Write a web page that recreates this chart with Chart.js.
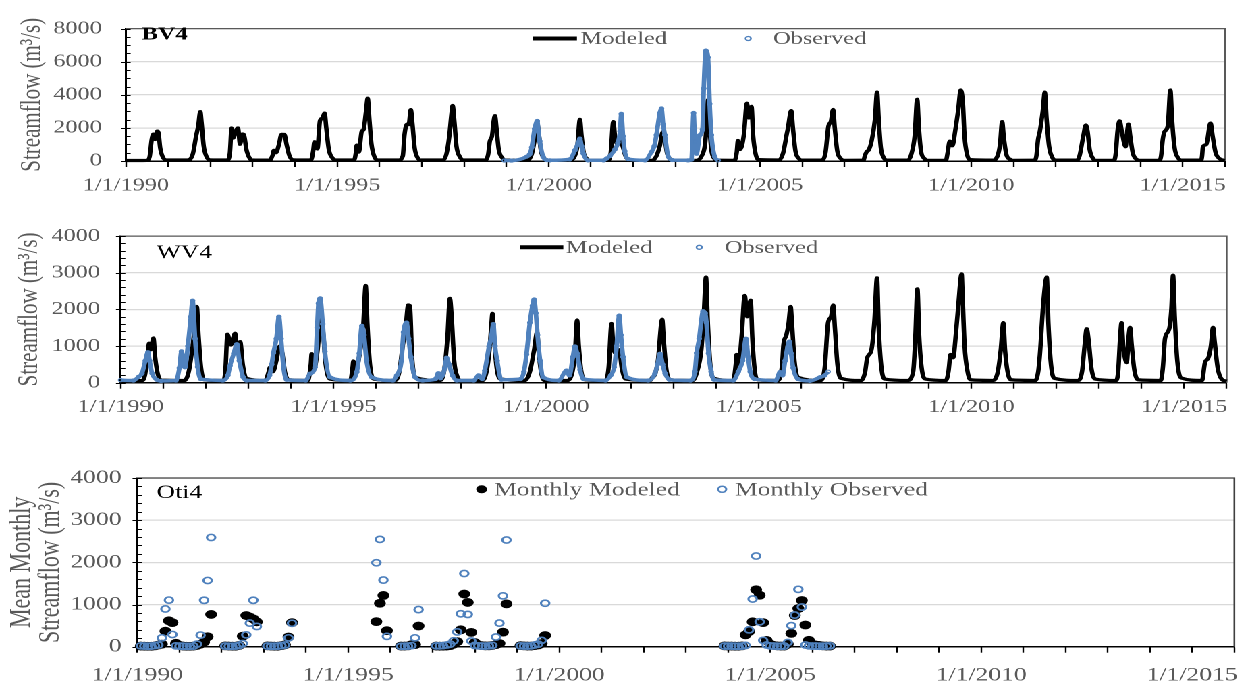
<!DOCTYPE html>
<html><head><meta charset="utf-8">
<script src="https://cdn.jsdelivr.net/npm/chart.js@4.4.1/dist/chart.umd.min.js"></script>
<style>
html,body{margin:0;padding:0;background:#fff;overflow:hidden;width:1250px;height:688px;}
#wrap{position:absolute;left:0;top:0;width:926px;height:688px;transform:scaleX(1.3499);transform-origin:0 0;}
.pane{position:absolute;left:0;width:926px;}
</style></head><body>
<div id="wrap">
 <div class="pane" style="top:0;height:200px"><canvas id="c1" width="926" height="200"></canvas></div>
 <div class="pane" style="top:210px;height:215px"><canvas id="c2" width="926" height="215"></canvas></div>
 <div class="pane" style="top:455px;height:233px"><canvas id="c3" width="926" height="233"></canvas></div>
</div>
<script>
// ---------------- DATA (x = decimal year, y = m3/s) ----------------
const bv4Modeled = [[1990.00,30],[1990.50,40],[1990.56,250],[1990.61,1300],[1990.65,1620],[1990.69,1300],[1990.74,1800],[1990.77,1700],[1990.81,800],[1990.87,250],[1990.96,60],
[1991.45,60],[1991.58,400],[1991.66,1500],[1991.71,2100],[1991.76,2980],[1991.79,2300],[1991.84,900],[1991.90,300],[1991.98,70],
[1992.40,60],[1992.46,500],[1992.50,1990],[1992.54,1390],[1992.59,1750],[1992.65,1990],[1992.70,1010],[1992.75,1630],[1992.79,1600],[1992.85,700],[1992.92,200],[1992.99,60],
[1993.40,50],[1993.47,350],[1993.50,640],[1993.55,500],[1993.62,1000],[1993.68,1610],[1993.75,1600],[1993.80,1000],[1993.87,300],[1993.96,70],
[1994.38,60],[1994.43,600],[1994.46,1160],[1994.53,730],[1994.59,2420],[1994.65,2600],[1994.70,2890],[1994.74,2000],[1994.80,700],[1994.88,200],[1994.97,60],
[1995.40,60],[1995.44,500],[1995.46,960],[1995.51,540],[1995.58,1800],[1995.62,1890],[1995.68,3000],[1995.72,3790],[1995.76,2500],[1995.81,1000],[1995.88,250],[1995.97,60],
[1996.45,60],[1996.55,300],[1996.59,1570],[1996.65,2230],[1996.69,2200],[1996.74,3100],[1996.78,2200],[1996.83,800],[1996.90,200],[1996.98,60],
[1997.50,60],[1997.58,400],[1997.65,1500],[1997.70,2800],[1997.73,3350],[1997.77,2400],[1997.82,900],[1997.90,250],[1997.98,60],
[1998.50,60],[1998.57,400],[1998.61,1200],[1998.66,1500],[1998.70,2400],[1998.73,2740],[1998.77,1900],[1998.82,700],[1998.90,200],[1998.98,50],
[1999.50,50],[1999.60,400],[1999.67,1300],[1999.73,2300],[1999.77,1600],[1999.82,600],[1999.90,150],[1999.98,40],
[2000.50,40],[2000.62,300],[2000.68,900],[2000.74,2510],[2000.78,1500],[2000.83,500],[2000.90,150],[2000.98,40],
[2001.40,40],[2001.47,500],[2001.53,2380],[2001.57,1500],[2001.63,1000],[2001.70,1200],[2001.75,900],[2001.82,300],[2001.92,60],
[2002.45,40],[2002.55,300],[2002.63,900],[2002.70,1760],[2002.75,1300],[2002.80,500],[2002.87,120],[2002.95,40],
[2003.50,40],[2003.62,300],[2003.70,1000],[2003.74,2300],[2003.77,3700],[2003.80,2300],[2003.85,700],[2003.92,150],[2004.00,50],
[2004.40,40],[2004.45,500],[2004.48,1240],[2004.53,700],[2004.62,1600],[2004.69,3490],[2004.74,2600],[2004.80,3300],[2004.84,1500],[2004.90,400],[2004.98,80],
[2005.45,60],[2005.55,500],[2005.63,1570],[2005.66,1950],[2005.74,3040],[2005.78,2000],[2005.84,600],[2005.92,150],[2005.99,50],
[2006.45,50],[2006.55,500],[2006.62,2100],[2006.68,2400],[2006.73,3110],[2006.77,2000],[2006.83,600],[2006.91,150],[2006.99,40],
[2007.45,50],[2007.48,300],[2007.52,540],[2007.58,700],[2007.64,1200],[2007.72,2500],[2007.77,4160],[2007.81,2500],[2007.86,800],[2007.93,200],[2008.00,50],
[2008.50,50],[2008.58,400],[2008.66,1500],[2008.72,3730],[2008.76,2000],[2008.81,600],[2008.89,150],[2008.97,40],
[2009.40,40],[2009.44,500],[2009.49,1200],[2009.55,920],[2009.63,2000],[2009.69,3070],[2009.75,4290],[2009.80,3540],[2009.84,1500],[2009.90,400],[2009.98,80],
[2010.50,50],[2010.62,300],[2010.68,1000],[2010.73,2380],[2010.77,1400],[2010.83,400],[2010.92,100],[2010.99,40],
[2011.50,50],[2011.54,300],[2011.58,1300],[2011.62,1760],[2011.69,3000],[2011.74,4160],[2011.78,2600],[2011.84,900],[2011.92,200],[2011.99,50],
[2012.50,50],[2012.56,300],[2012.65,1500],[2012.71,2170],[2012.75,1800],[2012.80,700],[2012.88,150],[2012.96,40],
[2013.38,40],[2013.42,500],[2013.46,1800],[2013.51,2420],[2013.56,1800],[2013.65,860],[2013.69,1800],[2013.72,2230],[2013.76,1500],[2013.82,500],[2013.90,120],[2013.98,40],
[2014.45,40],[2014.49,300],[2014.53,1300],[2014.57,1760],[2014.65,2140],[2014.71,4290],[2014.75,2500],[2014.81,800],[2014.89,200],[2014.97,50],
[2015.44,50],[2015.46,300],[2015.48,860],[2015.56,1000],[2015.66,2290],[2015.71,1500],[2015.78,500],[2015.87,150],[2015.97,40],[2016.00,30]];

const bv4Observed = [[1998.95,30],[1999.12,25],[1999.48,260],[1999.55,400],[1999.60,820],[1999.67,1950],[1999.73,2420],[1999.76,1800],[1999.79,1200],[1999.87,260],[1999.95,60],
[2000.03,40],[2000.50,100],[2000.62,640],[2000.70,1100],[2000.74,1350],[2000.78,900],[2000.82,450],[2000.93,40],
[2001.30,40],[2001.37,150],[2001.45,300],[2001.57,700],[2001.64,1100],[2001.69,1800],[2001.72,2850],[2001.76,1500],[2001.80,600],[2001.88,120],
[2002.28,40],[2002.43,540],[2002.50,900],[2002.55,1570],[2002.63,2890],[2002.67,3170],[2002.71,2200],[2002.75,1570],[2002.83,260],[2002.92,60],
[2003.30,40],[2003.38,80],[2003.43,2900],[2003.46,1200],[2003.50,440],[2003.58,1570],[2003.64,1900],[2003.67,4380],[2003.72,6670],[2003.77,6260],[2003.81,3450],[2003.85,1570],[2003.93,260],[2004.01,40]];

const wv4Modeled = [[1990.00,50],[1990.50,60],[1990.57,200],[1990.63,700],[1990.67,1075],[1990.71,900],[1990.77,1220],[1990.81,700],[1990.87,250],[1990.95,70],
[1991.50,60],[1991.60,300],[1991.68,900],[1991.74,1500],[1991.79,2080],[1991.83,1300],[1991.89,400],[1991.97,80],
[1992.40,60],[1992.46,300],[1992.51,1320],[1992.59,1030],[1992.69,1350],[1992.74,900],[1992.81,1120],[1992.87,500],[1992.95,120],
[1993.40,60],[1993.48,300],[1993.51,420],[1993.58,300],[1993.66,600],[1993.74,1000],[1993.80,800],[1993.86,300],[1993.95,80],
[1994.40,60],[1994.47,500],[1994.49,790],[1994.55,400],[1994.63,900],[1994.70,1750],[1994.75,1500],[1994.82,500],[1994.92,100],
[1995.40,60],[1995.45,400],[1995.47,590],[1995.52,300],[1995.62,800],[1995.70,1500],[1995.76,2650],[1995.80,1600],[1995.86,500],[1995.95,100],
[1996.45,60],[1996.55,300],[1996.63,1000],[1996.70,1500],[1996.76,2120],[1996.80,2095],[1996.85,700],[1996.93,150],
[1997.50,60],[1997.60,300],[1997.68,1200],[1997.74,2300],[1997.78,1800],[1997.84,600],[1997.92,150],[1997.99,60],
[1998.50,60],[1998.60,300],[1998.67,900],[1998.71,1500],[1998.74,1890],[1998.78,1200],[1998.84,400],[1998.93,100],
[1999.50,60],[1999.62,300],[1999.72,900],[1999.79,1380],[1999.83,800],[1999.89,250],[1999.97,60],
[2000.50,60],[2000.62,300],[2000.68,800],[2000.73,1710],[2000.77,1000],[2000.83,300],[2000.92,80],
[2001.40,60],[2001.47,400],[2001.54,1615],[2001.58,1000],[2001.65,800],[2001.72,900],[2001.78,400],[2001.87,100],
[2002.45,60],[2002.50,150],[2002.55,200],[2002.63,600],[2002.73,1730],[2002.77,1100],[2002.83,350],[2002.92,80],
[2003.45,60],[2003.55,300],[2003.65,900],[2003.71,1900],[2003.76,2880],[2003.80,1700],[2003.86,500],[2003.94,120],
[2004.40,60],[2004.46,500],[2004.48,770],[2004.53,500],[2004.60,1300],[2004.67,2380],[2004.73,1800],[2004.81,2250],[2004.85,1200],[2004.91,300],[2004.98,80],
[2005.45,60],[2005.55,500],[2005.58,1030],[2005.65,1300],[2005.70,1600],[2005.75,2080],[2005.78,1640],[2005.84,600],[2005.92,150],
[2006.45,60],[2006.55,400],[2006.63,1640],[2006.70,1800],[2006.75,2120],[2006.79,1500],[2006.85,500],[2006.93,120],
[2007.40,60],[2007.50,290],[2007.55,680],[2007.65,900],[2007.72,1700],[2007.78,2860],[2007.82,1500],[2007.88,450],[2007.96,100],
[2008.50,60],[2008.63,300],[2008.68,1200],[2008.73,2560],[2008.77,1300],[2008.83,400],[2008.92,100],
[2009.40,60],[2009.46,300],[2009.51,770],[2009.57,680],[2009.64,1400],[2009.69,2080],[2009.77,2970],[2009.79,2430],[2009.84,1000],[2009.91,300],[2009.98,80],
[2010.50,60],[2010.62,300],[2010.69,900],[2010.75,1640],[2010.79,900],[2010.85,300],[2010.93,80],
[2011.50,60],[2011.57,300],[2011.61,770],[2011.69,2170],[2011.77,2880],[2011.81,1600],[2011.87,500],[2011.95,120],
[2012.50,60],[2012.60,300],[2012.66,1000],[2012.71,1470],[2012.76,1100],[2012.82,400],[2012.91,100],
[2013.40,60],[2013.45,300],[2013.50,1300],[2013.53,1640],[2013.57,1000],[2013.65,550],[2013.70,1300],[2013.73,1510],[2013.77,1000],[2013.83,350],[2013.92,80],
[2014.45,60],[2014.50,400],[2014.55,1200],[2014.65,1470],[2014.70,2000],[2014.74,2930],[2014.78,1800],[2014.84,600],[2014.93,130],
[2015.42,60],[2015.49,550],[2015.57,680],[2015.63,1000],[2015.68,1510],[2015.72,1100],[2015.79,400],[2015.88,100],[2016.00,40]];

const wv4Observed = [[1990.00,70],[1990.30,60],[1990.42,160],[1990.50,250],[1990.58,600],[1990.64,830],[1990.68,600],[1990.74,250],[1990.85,80],[1990.95,50],
[1991.30,60],[1991.38,400],[1991.43,855],[1991.51,420],[1991.58,1000],[1991.65,1800],[1991.69,2235],[1991.75,1200],[1991.81,430],[1991.88,100],
[1992.40,60],[1992.52,200],[1992.57,460],[1992.66,800],[1992.73,1050],[1992.79,600],[1992.88,150],[1992.96,60],
[1993.40,60],[1993.50,200],[1993.55,500],[1993.59,810],[1993.66,1200],[1993.72,1800],[1993.77,1200],[1993.83,400],[1993.90,80],
[1994.35,60],[1994.45,245],[1994.57,420],[1994.62,1500],[1994.65,2165],[1994.69,2300],[1994.75,1600],[1994.80,850],[1994.92,150],
[1995.40,60],[1995.55,290],[1995.61,800],[1995.67,1550],[1995.72,1300],[1995.78,600],[1995.90,150],
[1996.40,60],[1996.49,200],[1996.60,600],[1996.65,1380],[1996.72,1640],[1996.77,1200],[1996.82,700],[1996.92,150],
[1997.10,60],[1997.40,100],[1997.47,260],[1997.52,120],[1997.62,400],[1997.66,680],[1997.72,500],[1997.80,200],[1997.90,60],
[1998.30,60],[1998.41,200],[1998.50,100],[1998.56,330],[1998.66,990],[1998.72,1300],[1998.76,1600],[1998.80,1000],[1998.85,600],[1998.95,80],
[1999.40,100],[1999.48,300],[1999.54,770],[1999.62,1640],[1999.68,2100],[1999.72,2270],[1999.76,1900],[1999.80,1300],[1999.86,600],[1999.93,150],
[2000.30,60],[2000.48,330],[2000.55,200],[2000.63,700],[2000.68,990],[2000.73,800],[2000.80,350],[2000.88,100],
[2001.40,60],[2001.52,200],[2001.60,420],[2001.66,1000],[2001.72,1830],[2001.76,1300],[2001.81,700],[2001.90,150],
[2002.40,60],[2002.56,250],[2002.62,500],[2002.68,790],[2002.74,500],[2002.80,250],[2002.90,80],
[2003.40,60],[2003.50,300],[2003.54,810],[2003.60,1200],[2003.65,1700],[2003.69,1950],[2003.74,1900],[2003.77,1640],[2003.82,800],[2003.88,300],[2003.95,80],
[2004.40,60],[2004.52,300],[2004.62,600],[2004.70,1200],[2004.75,700],[2004.80,300],[2004.90,100],
[2005.40,60],[2005.50,290],[2005.56,200],[2005.62,600],[2005.72,1120],[2005.76,800],[2005.81,400],[2005.92,100],
[2006.20,50],[2006.44,150],[2006.55,200],[2006.63,300]];

// Oti4 monthly blocks: [start year, start month] and monthly values
const otiBlockStart = [[1990,1],[1992,1],[1993,1],[1995,8],[1996,3],[1997,1],[1999,1],[2003,11]];
const otiModeled = [
 [15,12,10,10,20,40,60,370,615,570,80,30, 15,10,10,15,30,60,110,235,765],
 [20,15,12,12,30,250,740,705,660,590],
 [20,15,12,12,25,45,230,570],
 [595,1030,1215,380],
 [15,15,20,50,50,490],
 [15,12,12,15,25,60,120,400,1250,1050,340,100, 40,25,20,20,30,50,75,345,1015],
 [25,20,15,15,25,40,75,265],
 [20,15, 15,12,12,20,280,360,590,1350,1220,570,150,60, 30,20,15,15,60,317,740,906,1096,514,152,60, 40,30,20,15,15]];
const otiObserved = [
 [20,15,12,15,25,40,210,895,1105,290,20,15, 12,10,10,15,60,275,1100,1570,2590],
 [15,12,12,15,30,75,280,560,1100,480],
 [15,12,12,15,25,40,210,555],
 [1990,2545,1580,245],
 [10,12,15,25,210,880],
 [20,20,25,40,60,140,350,780,1735,765,135,30, 20,15,15,20,30,230,560,1205,2530],
 [20,15,15,20,40,60,150,1030],
 [15,15, 15,12,12,15,30,400,1130,2150,590,150,40,20, 15,12,12,15,100,500,750,1360,940,40,20,15, 15,12,12,15,20]];

const yearTicksLabelEvery = 5;

// ---------------- helpers ----------------
const FONT = "'Liberation Serif','Times New Roman',serif";
const GRAY = '#595959';
const BLUE = '#4f81bd';
const toXY = pairs => pairs.map(p => ({x: p[0], y: p[1]}));
function monthly(starts, blocks){
  const out = [];
  starts.forEach((s, i) => {
    blocks[i].forEach((v, k) => {
      const t = (s[1] - 1) + k;
      out.push({x: s[0] + Math.floor(t / 12) + ((t % 12) + 1) / 12, y: v});
    });
  });
  return out;
}

const decor = {
  id: 'decor',
  beforeDatasetsDraw(chart, args, o) {
    const {ctx, chartArea: a} = chart;
    ctx.save();
    ctx.strokeStyle = o.frame || GRAY; ctx.lineWidth = 1.3;
    ctx.beginPath(); ctx.moveTo(a.left, a.top); ctx.lineTo(a.right, a.top); ctx.lineTo(a.right, a.bottom); ctx.stroke();
    const y = chart.scales.y;
    ctx.strokeStyle = '#000'; ctx.lineWidth = 1;
    for (let v = y.min; v <= y.max + 1e-6; v += o.minorStep) {
      const py = Math.round(y.getPixelForValue(v)) + 0.5;
      const major = Math.abs(v % o.majorStep) < 1e-6;
      ctx.beginPath(); ctx.moveTo(a.left - (major ? 3.5 : 0), py); ctx.lineTo(a.left + 3.5, py); ctx.stroke();
    }
    ctx.restore();
  },
  afterDraw(chart, args, o) {
    const ctx = chart.ctx;
    ctx.save();
    ctx.textBaseline = 'middle'; ctx.textAlign = 'left';
    ctx.fillStyle = '#000';
    ctx.font = o.labelFont;
    ctx.fillText(o.label, o.labelX, o.labelY);
    o.legend.forEach(it => {
      const ds = chart.data.datasets[it.ds];
      if (it.mark === 'line') {
        ctx.strokeStyle = ds.borderColor; ctx.lineWidth = 4; ctx.lineCap = 'butt';
        ctx.beginPath(); ctx.moveTo(it.x0, it.y); ctx.lineTo(it.x1, it.y); ctx.stroke();
      } else if (it.mark === 'dot') {
        ctx.fillStyle = '#000';
        ctx.beginPath(); ctx.arc(it.x, it.y, it.r, 0, Math.PI * 2); ctx.fill();
      } else {
        ctx.strokeStyle = BLUE; ctx.lineWidth = it.lw || 1.3;
        ctx.beginPath(); ctx.arc(it.x, it.y, it.r, 0, Math.PI * 2); ctx.stroke();
      }
      ctx.fillStyle = GRAY; ctx.font = o.legendFont;
      ctx.fillText(ds.label, it.tx, it.y + 1);
    });
    ctx.restore();
  }
};

function axes(o) {
  return {
    x: {type: 'linear', min: 1990, max: 2016,
      ticks: {stepSize: 1, autoSkip: false, maxRotation: 0, minRotation: 0, padding: o.xPad, color: GRAY,
        font: {family: FONT, size: o.xFont},
        callback: v => (Math.round(v) % yearTicksLabelEvery === 0 ? '1/1/' + Math.round(v) : '')},
      grid: {drawOnChartArea: false, drawTicks: true, tickLength: 6, tickColor: '#000', tickWidth: 1.2},
      border: {display: true, color: '#000', width: 1.5},
      afterFit: s => { s.height = o.xH; }},
    y: {type: 'linear', min: 0, max: o.yMax,
      ticks: {stepSize: o.yStep, padding: o.yPad, color: GRAY, font: {family: FONT, size: o.yFont}, callback: v => String(v)},
      grid: {color: '#d9d9d9', lineWidth: 1.2, drawTicks: false},
      border: {display: true, color: '#000', width: 1.5},
      title: {display: true, text: o.title, color: GRAY, font: {family: FONT, size: o.tFont, lineHeight: o.tLH}, padding: {top: o.tPad, bottom: 0}},
      afterFit: s => { s.width = o.yW; }}
  };
}

const common = {responsive: false, animation: false, events: [], devicePixelRatio: 2};

// ---------------- Panel 1: BV4 ----------------
new Chart(document.getElementById('c1'), {
  type: 'line',
  data: {datasets: [
    {label: 'Modeled', data: toXY(bv4Modeled), borderColor: '#000', borderWidth: 3.3, pointRadius: 0, cubicInterpolationMode: 'monotone', borderJoinStyle: 'round', order: 1, clip: false},
    {label: 'Observed', data: toXY(bv4Observed), borderColor: BLUE, borderWidth: 3.4, pointRadius: 1.6, pointBorderWidth: 1, pointBorderColor: BLUE, pointBackgroundColor: 'rgba(255,255,255,0)', cubicInterpolationMode: 'monotone', order: 0, clip: false}
  ]},
  options: Object.assign({}, common, {
    layout: {padding: {left: 0, right: 18.6, top: 19, bottom: 0}},
    scales: axes({xPad: 8, xFont: 18, xH: 39, yMax: 8000, yStep: 2000, yPad: 17.8, yFont: 18, yW: 93.3,
      title: 'Streamflow (m³/s)', tFont: 21, tLH: 1.2, tPad: 11.4}),
    plugins: {legend: {display: false}, tooltip: {enabled: false},
      decor: {minorStep: 500, majorStep: 2000, label: 'BV4', labelFont: "bold 18px " + FONT, labelX: 105, labelY: 35,
        legendFont: "18px " + FONT,
        legend: [{ds: 0, mark: 'line', x0: 394.8, x1: 427.4, y: 38.5, tx: 430.1},
                 {ds: 1, mark: 'circle', x: 554.3, y: 38.5, r: 2, tx: 572.8}]}}
  }),
  plugins: [decor]
});

// ---------------- Panel 2: WV4 ----------------
new Chart(document.getElementById('c2'), {
  type: 'line',
  data: {datasets: [
    {label: 'Modeled', data: toXY(wv4Modeled), borderColor: '#000', borderWidth: 3.3, pointRadius: 0, cubicInterpolationMode: 'monotone', borderJoinStyle: 'round', order: 1, clip: false},
    {label: 'Observed', data: toXY(wv4Observed), borderColor: BLUE, borderWidth: 3.4, pointRadius: 1.6, pointBorderWidth: 1, pointBorderColor: BLUE, pointBackgroundColor: 'rgba(255,255,255,0)', cubicInterpolationMode: 'monotone', order: 0, clip: false}
  ]},
  options: Object.assign({}, common, {
    layout: {padding: {left: 0, right: 17.3, top: 19.5, bottom: 0}},
    scales: axes({xPad: 8, xFont: 18, xH: 42.3, yMax: 4000, yStep: 1000, yPad: 15.3, yFont: 18, yW: 89.4,
      title: 'Streamflow (m³/s)', tFont: 21, tLH: 1.2, tPad: 9.6}),
    plugins: {legend: {display: false}, tooltip: {enabled: false},
      decor: {minorStep: 200, majorStep: 1000, label: 'WV4', labelFont: "19px " + FONT, labelX: 116, labelY: 43,
        legendFont: "18px " + FONT,
        legend: [{ds: 0, mark: 'line', x0: 385.2, x1: 417.3, y: 37.3, tx: 419.3},
                 {ds: 1, mark: 'circle', x: 518, y: 37.3, r: 2, tx: 537}]}}
  }),
  plugins: [decor]
});

// ---------------- Panel 3: Oti4 ----------------
new Chart(document.getElementById('c3'), {
  type: 'scatter',
  data: {datasets: [
    {label: 'Monthly Modeled', data: monthly(otiBlockStart, otiModeled), pointRadius: 4.4, backgroundColor: '#000', borderColor: '#000', borderWidth: 0, order: 1, clip: false},
    {label: 'Monthly Observed', data: monthly(otiBlockStart, otiObserved), pointRadius: 3.1, backgroundColor: 'rgba(255,255,255,0)', borderColor: BLUE, borderWidth: 1.6, order: 0, clip: false}
  ]},
  options: Object.assign({}, common, {
    layout: {padding: {left: 0, right: 8, top: 15, bottom: 0}},
    scales: axes({xPad: 11.6, xFont: 19, xH: 41.3, yMax: 4000, yStep: 1000, yPad: 11.6, yFont: 19, yW: 101.7,
      title: ['Mean Monthly', 'Streamflow (m³/s)'], tFont: 22, tLH: 0.98, tPad: 5.35}),
    plugins: {legend: {display: false}, tooltip: {enabled: false},
      decor: {minorStep: 200, majorStep: 1000, frame: '#404040', label: 'Oti4', labelFont: "19px " + FONT, labelX: 116, labelY: 38,
        legendFont: "19px " + FONT,
        legend: [{ds: 0, mark: 'dot', x: 356.8, y: 34.3, r: 4, tx: 366},
                 {ds: 1, mark: 'circle', x: 535, y: 34.3, r: 3, lw: 1.5, tx: 544.4}]}}
  }),
  plugins: [decor]
});
</script>
</body></html>
